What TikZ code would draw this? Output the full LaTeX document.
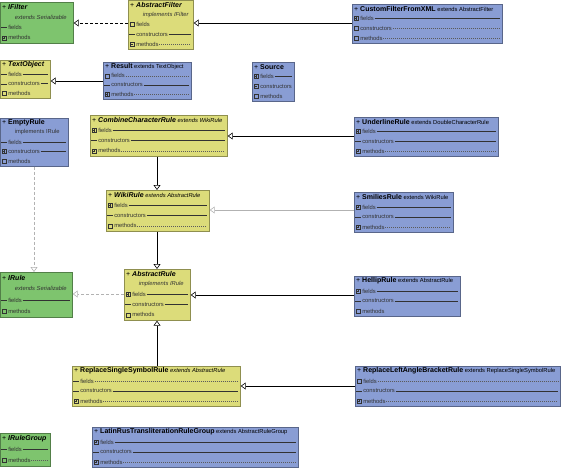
\documentclass[tikz,border=0pt]{standalone}
\usepackage{fontspec}
\setmainfont{Liberation Sans}
\usetikzlibrary{arrows.meta}
\definecolor{gr}{RGB}{126,196,110}
\definecolor{ye}{RGB}{220,220,122}
\definecolor{bl}{RGB}{137,157,212}
\definecolor{rowgray}{RGB}{50,50,50}
\tikzset{
  clsbox/.style={rectangle, inner sep=0pt, line width=0.7pt},
  ttl/.style={inner sep=0pt, font=\fontsize{7}{8}\selectfont, text=black},
  rowtxt/.style={inner sep=0.6pt, font=\fontsize{5.8}{6.5}\selectfont, text=rowgray},
  icon/.style={line width=0.45pt, draw=rowgray},
  solidrow/.style={line width=0.55pt, draw=rowgray},
  dashrow/.style={line width=0.45pt, draw=rowgray!80, dash pattern=on 1pt off 1pt},
  norow/.style={draw=none},
  gen/.style={line width=0.6pt, draw=black, -{Triangle[open,length=5pt,width=7pt,fill=white]}},
  genlight/.style={gen, draw=black!30},
  impl/.style={gen, dash pattern=on 3pt off 2pt},
  impllight/.style={gen, draw=black!30, dash pattern=on 3pt off 2pt},
}
\newcommand\ucls[7]{%
  \node[clsbox, fill=#7, draw=#7!65!black, minimum width=#4pt, minimum height=#5pt, anchor=north west] (#1) at (#2,#3) {};
  \def\cid{#1}\def\cx{#2}\def\cy{#3}\def\cw{#4}\pgfmathsetmacro\cl{#5/#6}%
}
\newcommand\uicon[3]{\ifcase#1\or
  \draw[icon] (#2-2,#3-2) rectangle (#2+2,#3+2);
  \draw[icon] (#2-1.2,#3)--(#2+1.2,#3);
  \draw[icon] (#2,#3-1.2)--(#2,#3+1.2);
  \or
  \draw[icon] (#2-2,#3-2) rectangle (#2+2,#3+2);
  \draw[icon] (#2-1.2,#3)--(#2+1.2,#3);
  \or
  \draw[icon] (#2-2.6,#3)--(#2+2.6,#3);
  \or
  \draw[icon] (#2-2,#3-2) rectangle (#2+2,#3+2);
  \fi}
\newcommand\utitle[1]{%
  \node[ttl, anchor=west] (\cid-t) at (\cx+2,\cy+0.5*\cl) {#1};}
\newcommand\usub[1]{%
  \node[rowtxt, anchor=west] (\cid-s) at (\cx+14,\cy+1.5*\cl) {#1};}
\newcommand\urow[5]{%
  \pgfmathsetmacro\ry{\cy+(#2+0.5)*\cl}%
  \uicon{#3}{\cx+4}{\ry}
  \node[rowtxt, anchor=west] (\cid-#1) at (\cx+7.5,\ry) {#4};
  \draw[#5] (\cid-#1.east) -- (\cx+\cw-2,\ry);}
\newcommand\ext[1]{{\fontsize{5.8}{6.5}\selectfont\mdseries\ #1}}
\begin{document}
\begin{tikzpicture}[x=1pt,y=-1pt]
\useasboundingbox (0,0) rectangle (562,468);
% IFilter
\ucls{ifilter}{0}{2}{73}{41}{4}{gr}
\utitle{+ \textbf{\textit{IFilter}}}
\usub{\textit{extends Serializable}}
\urow{f}{2}{3}{fields}{norow}
\urow{m}{3}{1}{methods}{norow}
% AbstractFilter
\ucls{afilter}{128}{0}{65}{49}{5}{ye}
\utitle{+ \textbf{\textit{AbstractFilter}}}
\usub{\textit{implements IFilter}}
\urow{f}{2}{4}{fields}{norow}
\urow{c}{3}{3}{constructors}{solidrow}
\urow{m}{4}{2}{methods}{dashrow}
% CustomFilterFromXML
\ucls{cust}{352}{4}{150}{39}{4}{bl}
\utitle{+ \textbf{CustomFilterFromXML}\ext{extends AbstractFilter}}
\urow{f}{1}{1}{fields}{solidrow}
\urow{c}{2}{4}{constructors}{dashrow}
\urow{m}{3}{4}{methods}{dashrow}
% TextObject
\ucls{textobj}{0}{60}{50}{38}{4}{ye}
\utitle{+ \textbf{\textit{TextObject}}}
\urow{f}{1}{3}{fields}{solidrow}
\urow{c}{2}{3}{constructors}{solidrow}
\urow{m}{3}{4}{methods}{norow}
% Result
\ucls{result}{103}{62}{88}{37}{4}{bl}
\utitle{+ \textbf{Result}\ext{extends TextObject}}
\urow{f}{1}{4}{fields}{dashrow}
\urow{c}{2}{3}{constructors}{solidrow}
\urow{m}{3}{1}{methods}{dashrow}
% Source
\ucls{source}{252}{62}{42}{39}{4}{bl}
\utitle{+ \textbf{Source}}
\urow{f}{1}{1}{fields}{solidrow}
\urow{c}{2}{2}{constructors}{norow}
\urow{m}{3}{4}{methods}{norow}
% EmptyRule
\ucls{empty}{0}{118}{68}{48}{5}{bl}
\utitle{+ \textbf{EmptyRule}}
\usub{implements IRule}
\urow{f}{2}{3}{fields}{solidrow}
\urow{c}{3}{1}{constructors}{solidrow}
\urow{m}{4}{4}{methods}{norow}
% CombineCharacterRule
\ucls{combine}{90}{115}{137}{41}{4}{ye}
\utitle{+ \textbf{\textit{CombineCharacterRule}}\ext{\textit{extends WikiRule}}}
\urow{f}{1}{1}{fields}{solidrow}
\urow{c}{2}{3}{constructors}{solidrow}
\urow{m}{3}{1}{methods}{dashrow}
% UnderlineRule
\ucls{under}{354}{117}{144}{39}{4}{bl}
\utitle{+ \textbf{UnderlineRule}\ext{extends DoubleCharacterRule}}
\urow{f}{1}{1}{fields}{solidrow}
\urow{c}{2}{3}{constructors}{solidrow}
\urow{m}{3}{1}{methods}{dashrow}
% WikiRule
\ucls{wiki}{106}{190}{103}{41}{4}{ye}
\utitle{+ \textbf{\textit{WikiRule}}\ext{\textit{extends AbstractRule}}}
\urow{f}{1}{1}{fields}{solidrow}
\urow{c}{2}{3}{constructors}{solidrow}
\urow{m}{3}{4}{methods}{dashrow}
% SmiliesRule
\ucls{smilies}{354}{192}{99}{40}{4}{bl}
\utitle{+ \textbf{SmiliesRule}\ext{extends WikiRule}}
\urow{f}{1}{1}{fields}{solidrow}
\urow{c}{2}{3}{constructors}{solidrow}
\urow{m}{3}{1}{methods}{dashrow}
% IRule
\ucls{irule}{0}{272}{72}{45}{4}{gr}
\utitle{+ \textbf{\textit{IRule}}}
\usub{\textit{extends Serializable}}
\urow{f}{2}{3}{fields}{solidrow}
\urow{m}{3}{4}{methods}{norow}
% AbstractRule
\ucls{arule}{124}{269}{66}{51}{5}{ye}
\utitle{+ \textbf{\textit{AbstractRule}}}
\usub{\textit{implements IRule}}
\urow{f}{2}{1}{fields}{solidrow}
\urow{c}{3}{3}{constructors}{solidrow}
\urow{m}{4}{4}{methods}{norow}
% HellipRule
\ucls{hellip}{354}{276}{106}{40}{4}{bl}
\utitle{+ \textbf{HellipRule}\ext{extends AbstractRule}}
\urow{f}{1}{1}{fields}{solidrow}
\urow{c}{2}{3}{constructors}{solidrow}
\urow{m}{3}{4}{methods}{norow}
% ReplaceSingleSymbolRule
\ucls{rssr}{72}{366}{168}{40}{4}{ye}
\utitle{+ \textbf{ReplaceSingleSymbolRule}\ext{\textit{extends AbstractRule}}}
\urow{f}{1}{3}{fields}{dashrow}
\urow{c}{2}{3}{constructors}{solidrow}
\urow{m}{3}{1}{methods}{dashrow}
% ReplaceLeftAngleBracketRule
\ucls{rlab}{355}{366}{205}{40}{4}{bl}
\utitle{+ \textbf{ReplaceLeftAngleBracketRule}\ext{extends ReplaceSingleSymbolRule}}
\urow{f}{1}{4}{fields}{dashrow}
\urow{c}{2}{3}{constructors}{solidrow}
\urow{m}{3}{1}{methods}{dashrow}
% IRuleGroup
\ucls{irg}{0}{433}{50}{33}{3}{gr}
\utitle{+ \textbf{\textit{IRuleGroup}}}
\urow{f}{1}{3}{fields}{solidrow}
\urow{m}{2}{4}{methods}{dashrow}
% LatinRusTransliterationRuleGroup
\ucls{latin}{92}{427}{206}{40}{4}{bl}
\utitle{+ \textbf{LatinRusTransliterationRuleGroup}\ext{extends AbstractRuleGroup}}
\urow{f}{1}{1}{fields}{solidrow}
\urow{c}{2}{3}{constructors}{solidrow}
\urow{m}{3}{1}{methods}{dashrow}
% connectors
\coordinate (ya) at (0,23);
\coordinate (yb) at (0,81);
\coordinate (yc) at (0,136);
\coordinate (yd) at (0,210);
\coordinate (ye) at (0,294);
\coordinate (yf) at (0,295);
\coordinate (yg) at (0,386);
\coordinate (xa) at (157,0);
\coordinate (xb) at (34,0);
\draw[gen] (cust.west |- ya) -- (afilter.east |- ya);
\draw[impl] (afilter.west |- ya) -- (ifilter.east |- ya);
\draw[gen] (result.west |- yb) -- (textobj.east |- yb);
\draw[gen] (under.west |- yc) -- (combine.east |- yc);
\draw[genlight] (smilies.west |- yd) -- (wiki.east |- yd);
\draw[gen] (combine.south -| xa) -- (wiki.north -| xa);
\draw[gen] (wiki.south -| xa) -- (arule.north -| xa);
\draw[impllight] (arule.west |- ye) -- (irule.east |- ye);
\draw[impllight] (empty.south -| xb) -- (irule.north -| xb);
\draw[gen] (hellip.west |- yf) -- (arule.east |- yf);
\draw[gen] (rssr.north -| xa) -- (arule.south -| xa);
\draw[gen] (rlab.west |- yg) -- (rssr.east |- yg);
\end{tikzpicture}
\end{document}
